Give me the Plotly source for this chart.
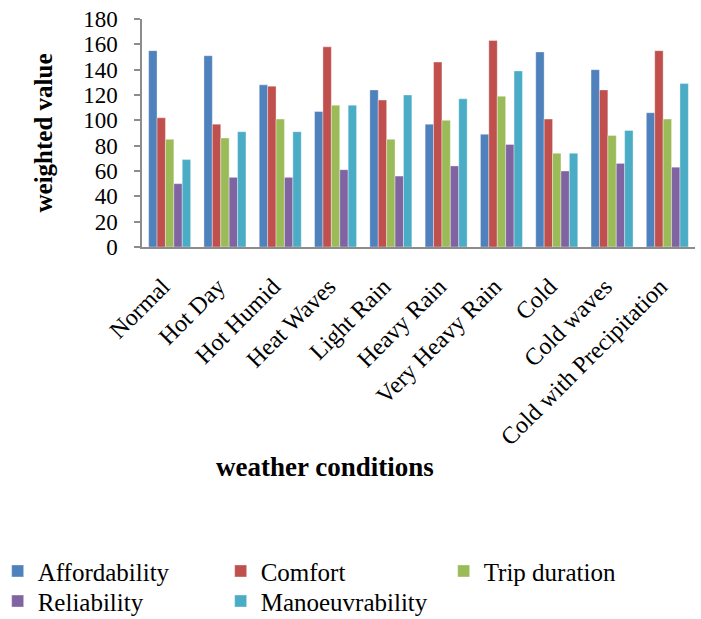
import plotly.graph_objects as go

# Weather conditions (x categories)
conditions = ["Normal", "Hot Day", "Hot Humid", "Heat Waves", "Light Rain",
              "Heavy Rain", "Very Heavy Rain", "Cold", "Cold waves",
              "Cold with Precipitation"]

# Weighted values per criterion
affordability = [155, 151, 128, 107, 124, 97, 89, 154, 140, 106]
comfort = [102, 97, 127, 158, 116, 146, 163, 101, 124, 155]
trip_duration = [85, 86, 101, 112, 85, 100, 119, 74, 88, 101]
reliability = [50, 55, 55, 61, 56, 64, 81, 60, 66, 63]
manoeuvrability = [69, 91, 91, 112, 120, 117, 139, 74, 92, 129]

y_ticks = [0, 20, 40, 60, 80, 100, 120, 140, 160, 180]

# (name, values, colour, legend row)
series = [
    ("Affordability", affordability, "#4F81BD", "legend"),
    ("Comfort", comfort, "#C0504D", "legend"),
    ("Trip duration", trip_duration, "#9BBB59", "legend"),
    ("Reliability", reliability, "#8064A2", "legend2"),
    ("Manoeuvrability", manoeuvrability, "#4BACC6", "legend2"),
]

FONT = "Liberation Serif"

fig = go.Figure()
for name, vals, color, leg in series:
    fig.add_trace(go.Bar(
        x=conditions, y=vals, name=name, legend=leg,
        marker=dict(color=color, line=dict(color="rgba(255,255,255,0.45)", width=0.8)),
    ))

legend_style = dict(
    orientation="h", x=-0.261, xanchor="left", yanchor="middle",
    entrywidth=178, entrywidthmode="pixels",
    font=dict(family=FONT, size=25, color="black"),
    itemwidth=30, tracegroupgap=0, traceorder="normal",
    bgcolor="rgba(0,0,0,0)",
)

fig.update_layout(
    width=701, height=619,
    margin=dict(l=142, r=6, t=19, b=372, autoexpand=False),
    paper_bgcolor="white", plot_bgcolor="white",
    barmode="group", bargap=0.24, bargroupgap=0,
    font=dict(family=FONT, size=24, color="black"),
    showlegend=True,
    legend=dict(legend_style, y=-1.422),
    legend2=dict(legend_style, y=-1.554),
    xaxis=dict(
        tickangle=-45, showgrid=False, showline=True, linecolor="#8c8c8c", linewidth=2,
        ticks="", tickfont=dict(family=FONT, size=24),
        ticklabelstandoff=14, ticklabelshift=-7,
        automargin=False,
    ),
    yaxis=dict(
        range=[0, 180], tickvals=y_ticks, showgrid=False, zeroline=False,
        showline=True, linecolor="#8c8c8c", linewidth=1.5,
        ticks="outside", ticklen=6, tickcolor="#8c8c8c", tickwidth=1.5,
        tickfont=dict(family=FONT, size=23), ticklabelstandoff=12,
        automargin=False,
        title=dict(text="<b>weighted value</b>", font=dict(family=FONT, size=25), standoff=23),
    ),
    annotations=[dict(
        text="<b>weather conditions</b>", xref="paper", yref="paper",
        x=0.331, y=-0.965, xanchor="center", yanchor="middle", showarrow=False,
        font=dict(family=FONT, size=27, color="black"),
    )],
)

fig.write_html("out.html")
